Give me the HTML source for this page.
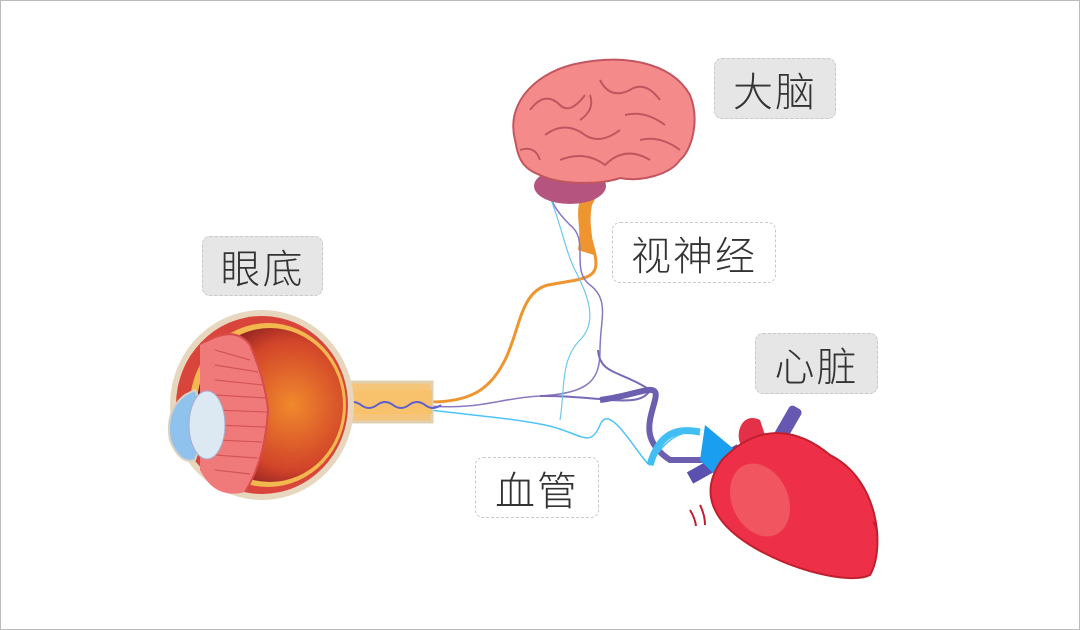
<!DOCTYPE html>
<html><head><meta charset="utf-8"><style>
body{margin:0;background:#fff;}
.wrap{position:relative;width:1080px;height:630px;overflow:hidden;}
.lab{position:absolute;box-sizing:border-box;border:1.5px dashed #c8c8c8;border-radius:8px;font-family:"Liberation Sans","Noto Sans CJK SC",sans-serif;font-size:40px;color:#333;display:flex;align-items:center;justify-content:center;letter-spacing:2px;font-weight:300;}
.g{background:#e6e6e6;}
</style></head><body><div class="wrap">
<svg width="1080" height="630" style="position:absolute;left:0;top:0">
<rect x="0.5" y="0.5" width="1079" height="629" fill="none" stroke="#bbb"/>
<!-- connectors -->
<path d="M430,402 C470,402 490,390 505,360 C520,330 520,292 548,285 C585,278 600,280 595,255 C590,232 580,215 588,195" fill="none" stroke="#ef9530" stroke-width="3"/>
<path d="M578,250 C582,230 575,215 580,200 L590,178 L605,180 L592,205 C588,225 594,240 594,255 Z" fill="#ef9530"/>
<path d="M430,406 C480,410 500,398 540,396 C590,393 600,380 600,350 C600,320 610,300 590,285 C570,270 590,240 570,225 C555,210 550,200 550,190" fill="none" stroke="#8a78c0" stroke-width="1.5"/>
<path d="M540,396 C600,395 640,410 650,390 C620,370 600,375 598,350" fill="none" stroke="#7a6ab8" stroke-width="2"/>
<path d="M600,400 C640,395 660,380 655,400 C650,420 640,440 670,460 L720,460" fill="none" stroke="#6c5fb0" stroke-width="6"/>
<path d="M430,410 C470,415 510,418 545,425 C580,432 590,450 600,425 C610,400 640,460 650,465 C670,430 690,430 700,435" fill="none" stroke="#4fc3f7" stroke-width="1.5"/>
<path d="M560,420 C565,390 560,360 580,340 C600,320 585,290 575,270 C565,250 560,220 548,192" fill="none" stroke="#6fc7f0" stroke-width="1.2"/>
<path d="M650,465 C660,430 680,428 700,432" fill="none" stroke="#41bff5" stroke-width="7"/>
<!-- eye -->
<rect x="340" y="382" width="92" height="40" fill="#f4c57a" stroke="#e0d0b0" stroke-width="3"/>
<rect x="340" y="390" width="92" height="24" fill="#f7c26b"/>
<path d="M345,405 q8,-6 16,0 t16,0 t16,0 t16,0 t16,0 t16,0" fill="none" stroke="#5b5fd0" stroke-width="2"/>
<ellipse cx="262" cy="405" rx="92" ry="95" fill="#e7d7be"/>
<ellipse cx="262" cy="405" rx="86" ry="89" fill="#d9453a"/>
<ellipse cx="268" cy="405" rx="78" ry="82" fill="#f1b84f"/>
<defs><radialGradient id="ey" cx="0.65" cy="0.5" r="0.6"><stop offset="0" stop-color="#f08a2c"/><stop offset="0.7" stop-color="#d2442a"/><stop offset="1" stop-color="#8a1e22"/></radialGradient></defs>
<ellipse cx="270" cy="405" rx="73" ry="77" fill="url(#ey)"/>
<path d="M200,345 Q235,325 250,345 Q265,380 268,410 Q265,460 245,492 Q215,500 200,470 Z" fill="#f07a7a"/>
<path d="M205,342 Q235,325 250,345 Q265,380 268,410 Q265,460 245,492" fill="none" stroke="#d84c4c" stroke-width="2"/>
<g stroke="#d45555" stroke-width="1.2">
<line x1="215" y1="350" x2="250" y2="360"/><line x1="215" y1="365" x2="258" y2="372"/><line x1="215" y1="380" x2="263" y2="385"/><line x1="215" y1="395" x2="266" y2="398"/><line x1="215" y1="410" x2="267" y2="412"/><line x1="215" y1="425" x2="265" y2="427"/><line x1="215" y1="440" x2="262" y2="442"/><line x1="215" y1="455" x2="257" y2="458"/><line x1="215" y1="470" x2="250" y2="474"/>
</g>
<path d="M185,395 Q165,410 170,440 Q180,465 195,460 Q210,420 195,390 Z" fill="#8fc3ee" stroke="#d9d0c0" stroke-width="2"/>
<ellipse cx="207" cy="425" rx="18" ry="34" fill="#dce9f3" stroke="#aac" stroke-width="1"/>
<!-- brain -->
<ellipse cx="570" cy="186" rx="36" ry="18" fill="#b5547e"/>
<path d="M515,140 C505,100 540,70 580,63 C620,55 670,60 690,95 C700,120 692,150 680,160 C670,175 640,182 620,178 C600,185 560,185 540,175 C520,168 518,155 515,140 Z" fill="#f58a8a" stroke="#c25660" stroke-width="2"/>
<g fill="none" stroke="#c25660" stroke-width="2">
<path d="M530,110 q15,-20 30,-5 q10,10 25,-10"/><path d="M545,135 q20,-15 40,0 q15,10 35,-5"/><path d="M600,80 q10,20 30,10 q15,-10 30,10"/><path d="M560,160 q25,-10 45,5 q20,-20 45,-5"/><path d="M625,115 q20,-5 40,10"/><path d="M590,95 q5,15 -10,25"/><path d="M640,140 q20,-5 40,10"/><path d="M520,150 q15,-5 20,10"/>
</g>
<!-- heart -->
<rect x="780" y="405" width="14" height="40" rx="4" fill="#6657b0" transform="rotate(30 787 425)"/>
<path d="M690,478 L740,450" stroke="#5a50b0" stroke-width="13"/>
<path d="M705,425 L735,450 L720,480 L700,460 Z" fill="#1a9ff0"/>
<path d="M760,420 C740,410 732,440 745,450 L770,450 Z" fill="#e43048"/>
<path d="M722,460 C760,420 800,430 830,455 C880,480 885,550 870,575 C850,585 790,570 750,545 C710,520 700,490 722,460 Z" fill="#ed3048" stroke="#c0202e" stroke-width="2"/>
<ellipse cx="760" cy="500" rx="28" ry="38" fill="#f05560" transform="rotate(-25 760 500)"/>
<g stroke="#c0202e" stroke-width="2" fill="none"><path d="M690,510 q5,8 6,16"/><path d="M700,505 q5,10 5,20"/><path d="M873,522 q5,6 4,14"/></g>
</svg>
<div class="lab g" style="left:202px;top:236px;width:121px;height:60px">眼底</div>
<div class="lab g" style="left:714px;top:58px;width:122px;height:61px">大脑</div>
<div class="lab" style="left:612px;top:222px;width:164px;height:61px">视神经</div>
<div class="lab g" style="left:755px;top:333px;width:123px;height:61px">心脏</div>
<div class="lab" style="left:475px;top:457px;width:124px;height:61px">血管</div>
</div></body></html>
